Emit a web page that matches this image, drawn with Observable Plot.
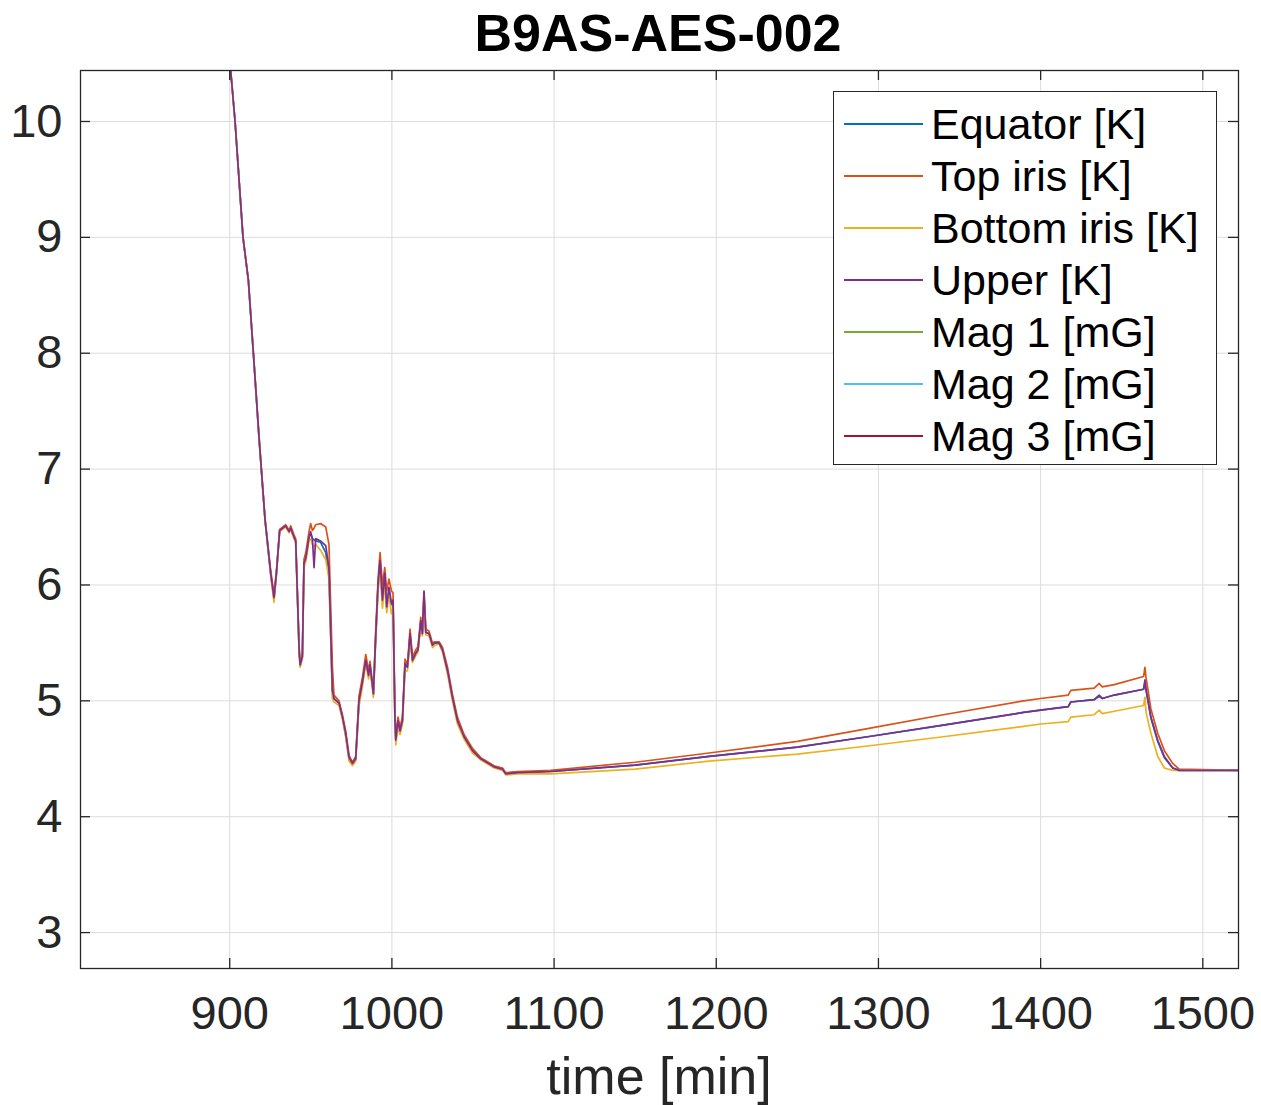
<!DOCTYPE html>
<html>
<head>
<meta charset="utf-8">
<script src="https://cdn.jsdelivr.net/npm/d3@7"></script>
<script src="https://cdn.jsdelivr.net/npm/@observablehq/plot@0.6"></script>
<style>
  html, body { margin: 0; padding: 0; background: #fff; }
  #wrap { position: relative; width: 1261px; height: 1105px; font-family: "Liberation Sans", Arial, Helvetica, sans-serif; color: #262626; }
  #title { height: 60px; line-height: 67px; text-align: center; font-size: 52px; font-weight: bold; color: #000; padding-left: 55px; box-sizing: border-box; overflow: visible; white-space: nowrap; }
  #xlabel { position: absolute; left: 80px; width: 1158px; top: 1045px; height: 60px; line-height: 62px; text-align: center; font-size: 52px; color: #262626; }
  #legend { position: absolute; left: 833px; top: 91px; width: 384px; height: 374px; box-sizing: border-box; border: 1.3px solid #262626; background: #fff; padding-top: 6px; }
  .row { display: flex; align-items: center; height: 52px; }
  .swatch { margin-left: 10px; width: 79px; height: 1.5px; }
  .lab { margin-left: 8px; font-size: 43px; color: #000; white-space: nowrap; }
</style>
</head>
<body>
<div id="wrap">
  <div id="title">B9AS-AES-002</div>
  <div id="chart"></div>
  <div id="xlabel">time [min]</div>
  <div id="legend"></div>
</div>
<script>
// Sample times in minutes
const times = [
  900.6, 903.3, 908.2, 911.5, 914.6, 918.0, 919.5, 921.8, 925.3, 927.3,
  928.8, 930.8, 934.5, 936.6, 937.6, 939.7, 940.7, 942.8, 943.4, 944.8,
  945.8, 946.9, 948.9, 949.9, 951.0, 952.0, 953.0, 956.0, 959.2, 961.2,
  963.3, 964.3, 967.4, 969.5, 971.5, 973.6, 975.7, 977.7, 979.7, 981.8,
  983.9, 985.6, 986.5, 988.6, 990.0, 991.5, 992.7, 994.2, 995.6, 996.8,
  998.2, 999.7, 1000.7, 1001.9, 1002.4, 1003.8, 1005.0, 1006.5, 1008.1, 1009.6,
  1011.2, 1012.7, 1014.7, 1016.1, 1017.8, 1018.8, 1019.8, 1020.9, 1022.9, 1025.0,
  1026.4, 1029.1, 1031.2, 1034.3, 1037.3, 1040.4, 1044.5, 1049.7, 1054.8, 1063.0,
  1068.2, 1070.2, 1077.4, 1098.0, 1150.0, 1195.6, 1250.0, 1293.3, 1340.0, 1389.5,
  1400.0, 1417.0, 1418.6, 1433.0, 1436.1, 1438.0, 1445.4, 1463.5, 1464.3, 1465.0,
  1468.0, 1472.2, 1476.3, 1481.4, 1485.4, 1522.0
];

// Temperatures [K]
const equatorK = [
  10.44, 10.00, 9.00, 8.63, 8.00, 7.28, 7.00, 6.56, 6.09, 5.88,
  6.10, 6.47, 6.51, 6.46, 6.48, 6.41, 6.37, 5.43, 5.31, 5.38,
  6.18, 6.23, 6.42, 6.44, 6.40, 6.39, 6.38, 6.37, 6.28, 6.10,
  5.08, 5.02, 4.98, 4.86, 4.70, 4.50, 4.46, 4.50, 4.99, 5.16,
  5.34, 5.22, 5.30, 5.06, 5.54, 6.00, 6.18, 5.86, 6.08, 5.80,
  5.96, 5.83, 5.86, 4.82, 4.66, 4.82, 4.74, 4.82, 5.31, 5.29,
  5.56, 5.35, 5.41, 5.44, 5.67, 5.58, 5.90, 5.59, 5.58, 5.48,
  5.50, 5.50, 5.44, 5.26, 5.03, 4.83, 4.69, 4.57, 4.50, 4.43,
  4.41, 4.37, 4.38, 4.39, 4.445, 4.52, 4.60, 4.69, 4.79, 4.90,
  4.92, 4.95, 4.99, 5.01, 5.04, 5.02, 5.05, 5.10, 5.16, 5.09,
  4.85, 4.65, 4.51, 4.42, 4.40, 4.40
];
const topIrisK = [
  10.44, 10.00, 9.00, 8.63, 8.00, 7.30, 7.00, 6.57, 6.12, 5.92,
  6.12, 6.48, 6.52, 6.47, 6.51, 6.43, 6.40, 5.47, 5.33, 5.40,
  6.22, 6.28, 6.46, 6.53, 6.47, 6.49, 6.52, 6.53, 6.50, 6.35,
  5.30, 5.05, 5.00, 4.88, 4.74, 4.53, 4.47, 4.52, 5.04, 5.20,
  5.40, 5.26, 5.34, 5.08, 5.60, 6.06, 6.28, 6.00, 6.15, 5.95,
  6.05, 5.95, 5.93, 4.90, 4.70, 4.86, 4.77, 4.86, 5.36, 5.31,
  5.62, 5.38, 5.44, 5.47, 5.72, 5.60, 5.95, 5.62, 5.60, 5.50,
  5.51, 5.51, 5.46, 5.29, 5.06, 4.86, 4.71, 4.59, 4.51, 4.44,
  4.42, 4.38, 4.39, 4.40, 4.47, 4.55, 4.65, 4.76, 4.88, 5.00,
  5.02, 5.05, 5.09, 5.11, 5.15, 5.12, 5.14, 5.21, 5.29, 5.20,
  4.93, 4.72, 4.57, 4.46, 4.41, 4.40
];
const bottomIrisK = [
  10.44, 10.00, 9.00, 8.63, 8.00, 7.28, 7.00, 6.55, 6.08, 5.85,
  6.08, 6.46, 6.50, 6.45, 6.48, 6.40, 6.36, 5.42, 5.29, 5.36,
  6.15, 6.20, 6.38, 6.40, 6.35, 6.33, 6.35, 6.30, 6.22, 6.05,
  5.02, 4.99, 4.96, 4.84, 4.69, 4.48, 4.44, 4.48, 4.95, 5.12,
  5.32, 5.19, 5.28, 5.03, 5.50, 5.95, 6.10, 5.80, 6.02, 5.76,
  5.92, 5.75, 5.80, 4.78, 4.62, 4.78, 4.71, 4.80, 5.25, 5.26,
  5.52, 5.33, 5.39, 5.42, 5.65, 5.56, 5.88, 5.57, 5.56, 5.46,
  5.48, 5.49, 5.42, 5.23, 5.00, 4.80, 4.67, 4.55, 4.49, 4.42,
  4.40, 4.36, 4.37, 4.37, 4.41, 4.48, 4.54, 4.61, 4.69, 4.78,
  4.80, 4.82, 4.86, 4.88, 4.92, 4.89, 4.91, 4.96, 5.03, 4.90,
  4.72, 4.52, 4.42, 4.40, 4.40, 4.40
];
const upperK = [
  10.44, 10.00, 9.00, 8.63, 8.00, 7.29, 7.00, 6.56, 6.10, 5.89,
  6.10, 6.47, 6.51, 6.46, 6.49, 6.41, 6.38, 5.44, 5.31, 5.38,
  6.19, 6.23, 6.41, 6.46, 6.40, 6.15, 6.40, 6.38, 6.34, 6.15,
  5.09, 5.02, 4.98, 4.86, 4.72, 4.51, 4.46, 4.50, 5.00, 5.16,
  5.35, 5.22, 5.31, 5.06, 5.55, 6.01, 6.21, 5.87, 6.10, 5.81,
  5.98, 5.84, 5.87, 4.83, 4.66, 4.83, 4.74, 4.83, 5.32, 5.29,
  5.58, 5.35, 5.41, 5.44, 5.69, 5.58, 5.94, 5.59, 5.58, 5.48,
  5.50, 5.50, 5.44, 5.26, 5.03, 4.83, 4.69, 4.57, 4.50, 4.43,
  4.41, 4.37, 4.38, 4.39, 4.445, 4.52, 4.60, 4.69, 4.79, 4.90,
  4.92, 4.95, 4.99, 5.01, 5.05, 5.02, 5.05, 5.10, 5.18, 5.10,
  4.86, 4.66, 4.52, 4.42, 4.40, 4.40
];

// Magnetometer channels [mG]: no samples fall inside this window
const mag1mG = [];
const mag2mG = [];
const mag3mG = [];

const seriesNames = ["Equator [K]", "Top iris [K]", "Bottom iris [K]", "Upper [K]", "Mag 1 [mG]", "Mag 2 [mG]", "Mag 3 [mG]"];
const seriesColors = ["#0072BD", "#D95319", "#EDB120", "#7E2F8E", "#77AC30", "#4DBEEE", "#A2142F"];
const seriesValues = [equatorK, topIrisK, bottomIrisK, upperK, mag1mG, mag2mG, mag3mG];

const xTicks = [900, 1000, 1100, 1200, 1300, 1400, 1500];
const yTicks = [3, 4, 5, 6, 7, 8, 9, 10];
const xDomain = [808, 1522];
const yDomain = [2.69, 10.44];

const tableFor = (vals) => vals.map((v, i) => ({t: times[i], v}));

const gridColor = "#dcdcdc";
const axisColor = "#262626";

const lineMarks = seriesValues.map((vals, k) =>
  Plot.line(tableFor(vals), {x: "t", y: "v", stroke: seriesColors[k], strokeWidth: 1.7, clip: true})
);

const chart = Plot.plot({
  width: 1261,
  height: 985,
  marginLeft: 80,
  marginRight: 23,
  marginTop: 10,
  marginBottom: 77,
  style: {fontSize: "47px", fontFamily: "'Liberation Sans', Arial, Helvetica, sans-serif", color: axisColor, background: "#fff"},
  x: {domain: xDomain, ticks: xTicks, tickSize: 0, tickPadding: 27, tickFormat: d => String(d), label: null},
  y: {domain: yDomain, ticks: yTicks, tickSize: 0, tickPadding: 18, tickFormat: d => String(d), label: null},
  marks: [
    Plot.ruleX(xTicks, {x: d => d, stroke: gridColor, strokeWidth: 1}),
    Plot.ruleY(yTicks, {y: d => d, stroke: gridColor, strokeWidth: 1}),
    ...lineMarks,
    // inward ticks on all four sides
    Plot.ruleX(xTicks, {x: d => d, stroke: axisColor, strokeWidth: 1.3, insetTop: 888}),
    Plot.ruleX(xTicks, {x: d => d, stroke: axisColor, strokeWidth: 1.3, insetBottom: 888}),
    Plot.ruleY(yTicks, {y: d => d, stroke: axisColor, strokeWidth: 1.3, insetRight: 1148}),
    Plot.ruleY(yTicks, {y: d => d, stroke: axisColor, strokeWidth: 1.3, insetLeft: 1148}),
    Plot.frame({stroke: axisColor, strokeWidth: 1.3})
  ]
});
document.getElementById("chart").appendChild(chart);

// Legend box drawn over the axes
const legend = document.getElementById("legend");
seriesNames.forEach((name, k) => {
  const row = document.createElement("div");
  row.className = "row";
  const sw = document.createElement("div");
  sw.className = "swatch";
  sw.style.background = seriesColors[k];
  const lab = document.createElement("div");
  lab.className = "lab";
  lab.textContent = name;
  row.appendChild(sw);
  row.appendChild(lab);
  legend.appendChild(row);
});
</script>
</body>
</html>
